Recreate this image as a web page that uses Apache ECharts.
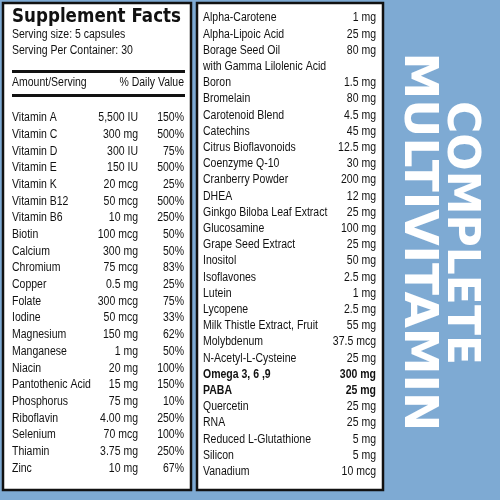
<!DOCTYPE html>
<html><head><meta charset="utf-8">
<script src="https://cdn.jsdelivr.net/npm/echarts@6/dist/echarts.min.js"></script>
<style>html,body{margin:0;padding:0;}#c{width:500px;height:500px;}</style>
</head><body><div id="c"></div>
<script>
const leftNames = ['Vitamin A','Vitamin C','Vitamin D','Vitamin E','Vitamin K','Vitamin B12','Vitamin B6','Biotin','Calcium','Chromium','Copper','Folate','Iodine','Magnesium','Manganese','Niacin','Pantothenic Acid','Phosphorus','Riboflavin','Selenium','Thiamin','Zinc'];
const leftAmounts = ['5,500 IU','300 mg','300 IU','150 IU','20 mcg','50 mcg','10 mg','100 mcg','300 mg','75 mcg','0.5 mg','300 mcg','50 mcg','150 mg','1 mg','20 mg','15 mg','75 mg','4.00 mg','70 mcg','3.75 mg','10 mg'];
const leftDV = ['150%','500%','75%','500%','25%','500%','250%','50%','50%','83%','25%','75%','33%','62%','50%','100%','150%','10%','250%','100%','250%','67%'];
const rightNames = ['Alpha-Carotene','Alpha-Lipoic Acid','Borage Seed Oil','with Gamma Lilolenic Acid','Boron','Bromelain','Carotenoid Blend','Catechins','Citrus Bioflavonoids','Coenzyme Q-10','Cranberry Powder','DHEA','Ginkgo Biloba Leaf Extract','Glucosamine','Grape Seed Extract','Inositol','Isoflavones','Lutein','Lycopene','Milk Thistle Extract, Fruit','Molybdenum','N-Acetyl-L-Cysteine','Omega 3, 6 ,9','PABA','Quercetin','RNA','Reduced L-Glutathione','Silicon','Vanadium'];
const rightAmounts = ['1 mg','25 mg','80 mg','','1.5 mg','80 mg','4.5 mg','45 mg','12.5 mg','30 mg','200 mg','12 mg','25 mg','100 mg','25 mg','50 mg','2.5 mg','1 mg','2.5 mg','55 mg','37.5 mcg','25 mg','300 mg','25 mg','25 mg','25 mg','5 mg','5 mg','10 mcg'];
const boldRows = ['Omega 3, 6 ,9','PABA'];
const titleLines = ['MULTIVITAMIN','COMPLETE'];

const F = '"Liberation Sans", sans-serif';
const els = [];
function txt(x, y, s, opt, sx) {
  els.push({type:'text', x:x, y:y, scaleX:sx || 0.84,
    style:Object.assign({text:s, fontFamily:F, fontSize:12.5, fill:'#111', textVerticalAlign:'middle'}, opt || {})});
}
// boxes
els.push({type:'rect', shape:{x:3, y:3, width:188, height:487}, style:{fill:'#fff', stroke:'#111', lineWidth:2.5}});
els.push({type:'rect', shape:{x:197, y:3, width:186, height:487}, style:{fill:'#fff', stroke:'#111', lineWidth:2.5}});
// header
txt(12, 17, 'Supplement Facts', {fontSize:19, fontWeight:'bold', fontFamily:'"DejaVu Sans", sans-serif'}, 0.88);
txt(12, 35, 'Serving size: 5 capsules', {fontSize:12.5});
txt(12, 51, 'Serving Per Container: 30', {fontSize:12.5});
els.push({type:'rect', shape:{x:12, y:70, width:173, height:3}, style:{fill:'#111'}});
txt(12, 83, 'Amount/Serving', {fontSize:12.5});
txt(184, 83, '% Daily Value', {fontSize:12.5, textAlign:'right'});
els.push({type:'rect', shape:{x:12, y:94, width:173, height:3}, style:{fill:'#111'}});
leftNames.forEach((n, i) => {
  const y = 118 + i * 16.67;
  txt(12, y, n);
  txt(138, y, leftAmounts[i], {textAlign:'right'});
  txt(184, y, leftDV[i], {textAlign:'right'});
});
rightNames.forEach((n, i) => {
  const y = 18 + i * 16.2;
  const b = boldRows.indexOf(n) >= 0 ? 'bold' : 'normal';
  txt(203, y, n, {fontWeight:b});
  if (rightAmounts[i]) txt(376, y, rightAmounts[i], {textAlign:'right', fontWeight:b});
});
// vertical title
titleLines.forEach((s, i) => {
  els.push({type:'text', x:[417, 459][i], y:[242, 233][i], rotation:-Math.PI/2,
    style:{text:s, fontFamily:'"DejaVu Sans", sans-serif', fontWeight:'bold', fontSize:[47, 44][i], fill:'#fff', textAlign:'center', textVerticalAlign:'middle'}});
});

const chart = echarts.init(document.getElementById('c'));
chart.setOption({backgroundColor:'#7eaad3', graphic:{elements:els}});
</script></body></html>
